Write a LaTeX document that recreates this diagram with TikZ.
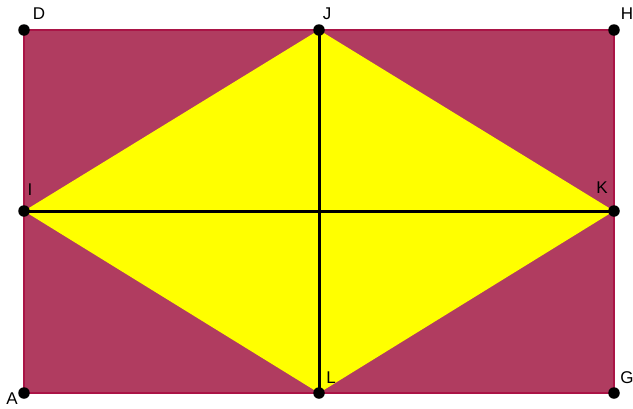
\documentclass[tikz,border=0pt]{standalone}
\usepackage{fontspec}
\setmainfont{Liberation Sans}
\definecolor{rectfill}{RGB}{176,60,96}
\definecolor{rectline}{RGB}{170,20,70}
\definecolor{rhomb}{RGB}{255,255,0}
\begin{document}
\begin{tikzpicture}[x=1pt,y=-1pt,
  pt/.style={circle,fill=black,inner sep=0pt,minimum size=11.5pt},
  lab/.style={font=\fontsize{17}{17}\selectfont,inner sep=0pt},
  seg/.style={line width=3pt}]
\useasboundingbox (0,0) rectangle (633,408);
\coordinate (D) at (24,30);
\coordinate (J) at (319,30);
\coordinate (H) at (614,30);
\coordinate (I) at (24,211);
\coordinate (K) at (614,211);
\coordinate (A) at (24,393);
\coordinate (L) at (319,393);
\coordinate (G) at (614,393);
\filldraw[fill=rectfill,draw=rectline,line width=1.2pt] (A) -- (G) -- (H) -- (D) -- cycle;
\fill[rhomb] (J) -- (K) -- (L) -- (I) -- cycle;
\draw[seg] (I) -- (K);
\draw[seg] (J) -- (L);
\foreach \p in {D,J,H,I,K,A,L,G} \node[pt] (n\p) at (\p) {};
\node[lab] (tD) at (39,14) {D};
\node[lab] (tJ) at (327,14) {J};
\node[lab] (tH) at (627,14) {H};
\node[lab] (tI) at (30,190) {I};
\node[lab] (tK) at (602,188) {K};
\node[lab] (tA) at (12,399) {A};
\node[lab] (tL) at (331,378) {L};
\node[lab] (tG) at (627,378) {G};
\end{tikzpicture}
\end{document}
